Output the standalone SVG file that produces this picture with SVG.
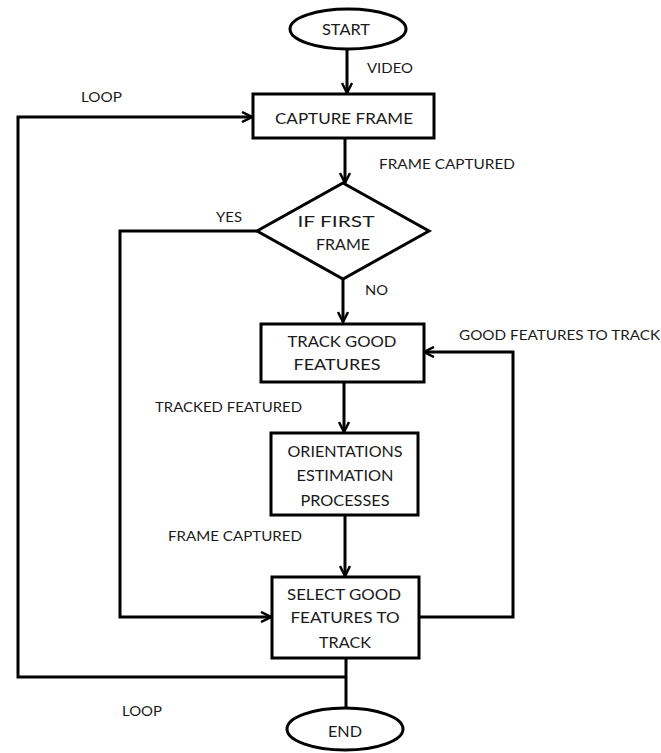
<svg xmlns="http://www.w3.org/2000/svg" width="661" height="753" viewBox="0 0 661 753">
<style>
.shape{fill:#fff;stroke:#000;stroke-width:3}
.conn{fill:none;stroke:#000;stroke-width:3}
text{font-family:Lato,"Open Sans","Liberation Sans",sans-serif;fill:#1a1a1a}
.n{font-size:15px;text-anchor:middle}
.l{font-size:13px}
</style>
<defs>
<marker id="ah" viewBox="0 0 12 12" refX="11" refY="6" markerWidth="12" markerHeight="12" markerUnits="userSpaceOnUse" orient="auto">
<path d="M1,1 L11,6 L1,11" fill="none" stroke="#000" stroke-width="2.5"/>
</marker>
</defs>
<rect width="661" height="753" fill="#fff"/>
<g id="connectors">
<line class="conn" x1="347" y1="49" x2="347" y2="93" marker-end="url(#ah)"/>
<line class="conn" x1="345" y1="138" x2="345" y2="183" marker-end="url(#ah)"/>
<line class="conn" x1="343" y1="279" x2="343" y2="322" marker-end="url(#ah)"/>
<line class="conn" x1="344" y1="382" x2="344" y2="432" marker-end="url(#ah)"/>
<line class="conn" x1="345" y1="515" x2="345" y2="576" marker-end="url(#ah)"/>
<polyline class="conn" points="257,231 120,231 120,617 271,617" marker-end="url(#ah)"/>
<polyline class="conn" points="419,617 513,617 513,352 424,352" marker-end="url(#ah)"/>
<line class="conn" x1="346" y1="658" x2="346" y2="709"/>
<polyline class="conn" points="346,677 18,677 18,117 252,117" marker-end="url(#ah)"/>
<text class="l" x="367" y="73" textLength="46" lengthAdjust="spacingAndGlyphs">VIDEO</text>
<text class="l" x="81" y="102" textLength="41" lengthAdjust="spacingAndGlyphs">LOOP</text>
<text class="l" x="379" y="169" textLength="136" lengthAdjust="spacingAndGlyphs">FRAME CAPTURED</text>
<text class="l" x="216" y="222" textLength="26" lengthAdjust="spacingAndGlyphs">YES</text>
<text class="l" x="365" y="295" textLength="23" lengthAdjust="spacingAndGlyphs">NO</text>
<text class="l" x="459" y="340" textLength="201" lengthAdjust="spacingAndGlyphs">GOOD FEATURES TO TRACK</text>
<text class="l" x="155" y="412" textLength="147" lengthAdjust="spacingAndGlyphs">TRACKED FEATURED</text>
<text class="l" x="168" y="541" textLength="134" lengthAdjust="spacingAndGlyphs">FRAME CAPTURED</text>
<text class="l" x="122" y="716" textLength="40" lengthAdjust="spacingAndGlyphs">LOOP</text>
</g>
<g id="start">
<ellipse class="shape" cx="348" cy="29" rx="58" ry="20"/>
<text class="n" x="346" y="35" textLength="48" lengthAdjust="spacingAndGlyphs">START</text>
</g>
<g id="capture">
<rect class="shape" x="253" y="94" width="181" height="44"/>
<text class="n" x="344" y="124" textLength="138" lengthAdjust="spacingAndGlyphs">CAPTURE  FRAME</text>
</g>
<g id="decision">
<polygon class="shape" points="343,183 429,231 343,279 257,231"/>
<text class="n" x="336" y="227" textLength="77" lengthAdjust="spacingAndGlyphs">IF FIRST</text>
<text class="n" x="343" y="250" textLength="54" lengthAdjust="spacingAndGlyphs">FRAME</text>
</g>
<g id="track">
<rect class="shape" x="261" y="324" width="163" height="58"/>
<text class="n" x="342" y="347" textLength="109" lengthAdjust="spacingAndGlyphs">TRACK  GOOD</text>
<text class="n" x="337" y="370" textLength="87" lengthAdjust="spacingAndGlyphs">FEATURES</text>
</g>
<g id="orient">
<rect class="shape" x="271" y="433" width="147" height="82"/>
<text class="n" x="345" y="457" textLength="115" lengthAdjust="spacingAndGlyphs">ORIENTATIONS</text>
<text class="n" x="345" y="481" textLength="97" lengthAdjust="spacingAndGlyphs">ESTIMATION</text>
<text class="n" x="345" y="506" textLength="89" lengthAdjust="spacingAndGlyphs">PROCESSES</text>
</g>
<g id="select">
<rect class="shape" x="272" y="577" width="147" height="81"/>
<text class="n" x="344" y="600" textLength="114" lengthAdjust="spacingAndGlyphs">SELECT  GOOD</text>
<text class="n" x="345" y="623" textLength="109" lengthAdjust="spacingAndGlyphs">FEATURES  TO</text>
<text class="n" x="345" y="648" textLength="52" lengthAdjust="spacingAndGlyphs">TRACK</text>
</g>
<g id="end">
<ellipse class="shape" cx="345" cy="729" rx="58" ry="21"/>
<text class="n" x="345" y="737" textLength="34" lengthAdjust="spacingAndGlyphs">END</text>
</g>
</svg>
